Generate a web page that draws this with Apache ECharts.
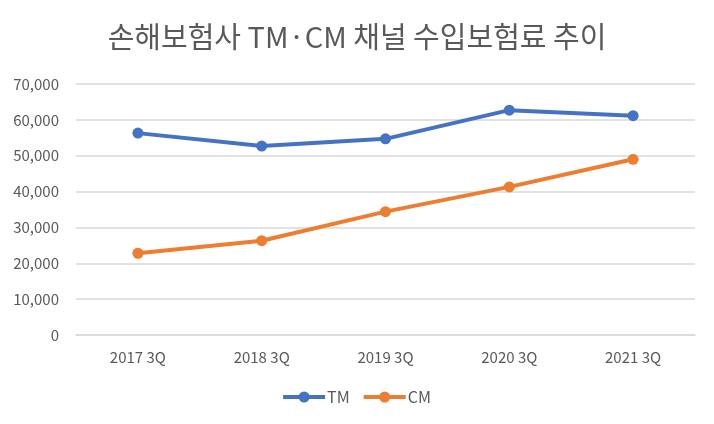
<!DOCTYPE html>
<html>
<head>
<meta charset="utf-8">
<title>손해보험사 TM·CM 채널 수입보험료 추이</title>
<script src="https://cdn.jsdelivr.net/npm/echarts@6/dist/echarts.min.js"></script>
<style>
  html, body { margin: 0; padding: 0; background: #fff; }
  #main { width: 714px; height: 424px; }
</style>
</head>
<body>
<div id="main"></div>
<script>
    var categories = ['2017 3Q', '2018 3Q', '2019 3Q', '2020 3Q', '2021 3Q'];
    var tmData = [56300, 52700, 54700, 62700, 61150];
    var cmData = [22800, 26300, 34400, 41300, 49000];

    var font = '"Noto Sans CJK KR", "Noto Sans", sans-serif';
    // 범례 아이콘: 굵은 선 + 가운데 점
    var legendIcon = 'path://M0,4 L42,4 L42,8 L0,8 Z M15.5,6 A5.5,5.5 0 1,1 26.5,6 A5.5,5.5 0 1,1 15.5,6 Z';
    var myChart = echarts.init(document.getElementById('main'));

    var option = {
        title: {
            text: '손해보험사 TM·CM 채널 수입보험료 추이',
            left: 'center',
            top: 17,
            textStyle: { fontFamily: font, fontSize: 29, fontWeight: 'normal', color: '#595959' }
        },
        grid: { left: 76, right: 19, top: 84, bottom: 89 },
        legend: {
            bottom: 14,
            left: 'center',
            itemWidth: 42,
            itemHeight: 12,
            itemGap: 14,
            textStyle: { fontFamily: font, fontSize: 16, color: '#595959', padding: [0, 0, 0, -3] },
            data: [{ name: 'TM', icon: legendIcon }, { name: 'CM', icon: legendIcon }]
        },
        xAxis: {
            type: 'category',
            data: categories,
            axisLine: { lineStyle: { color: '#D9D9D9', width: 1.5 } },
            axisTick: { show: false },
            axisLabel: { fontFamily: font, fontSize: 15, color: '#595959', margin: 15 }
        },
        yAxis: {
            type: 'value',
            min: 0,
            max: 70000,
            interval: 10000,
            axisLine: { show: false },
            axisTick: { show: false },
            splitLine: { lineStyle: { color: '#D9D9D9', width: 1.5 } },
            axisLabel: {
                fontFamily: font, fontSize: 15, color: '#595959', margin: 17,
                formatter: function (v) { return v.toLocaleString('en-US'); }
            }
        },
        series: [
            {
                name: 'TM', type: 'line', data: tmData,
                symbol: 'circle', symbolSize: 11,
                lineStyle: { width: 4, color: '#4472C4' },
                itemStyle: { color: '#4472C4' }
            },
            {
                name: 'CM', type: 'line', data: cmData,
                symbol: 'circle', symbolSize: 11,
                lineStyle: { width: 4, color: '#ED7D31' },
                itemStyle: { color: '#ED7D31' }
            }
        ]
    };
    myChart.setOption(option);
</script>
</body>
</html>
